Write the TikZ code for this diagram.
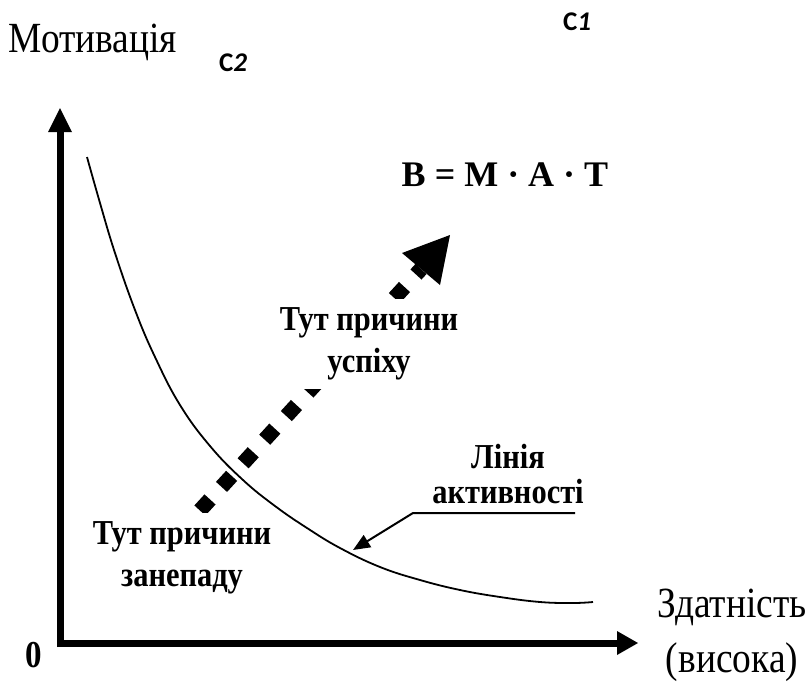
\documentclass[tikz,border=0pt]{standalone}
\usepackage{fontspec}
\setmainfont{Liberation Serif}[FakeStretch=0.87]
\newfontfamily\plainserif{Liberation Serif}
\newfontfamily\carl{Carlito}
\usetikzlibrary{arrows.meta}
\begin{document}
\begin{tikzpicture}[x=1pt,y=-1pt,
  axis/.style={line width=7pt},
  biglbl/.style={font=\fontsize{43}{46}\selectfont, inner sep=0pt, anchor=base},
  boldlbl/.style={font=\bfseries\fontsize{35}{42}\selectfont, align=center, inner sep=0pt},
  clbl/.style={font=\carl\bfseries\fontsize{27}{30}\selectfont, inner sep=0pt},
  whitebox/.style={fill=white, inner xsep=3pt},
  curve/.style={line width=1.8pt},
  dotarrow/.style={line width=15pt, dash pattern=on 15pt off 17pt}]
\useasboundingbox (0,0) rectangle (807,683);

% axes
\coordinate (ybot) at (60,647);
\coordinate (ybase) at (60,130);
\coordinate (ytip) at (60,108);
\coordinate (xleft) at (57,643);
\coordinate (xbase) at (619,643);
\coordinate (xtip) at (638,643);
\draw[axis] (ybot) -- (ybase);
\fill (ytip) -- ++(-12,24) -- ++(24,0) -- cycle;
\draw[axis] (xleft) -- (xbase);
\fill (xtip) -- ++(-21,-12) -- ++(0,24) -- cycle;

% activity curve
\coordinate (cstart) at (87,157);
\coordinate (cend) at (593,602);
\draw[curve] plot[smooth, tension=0.7] coordinates {(87,157) (100,203) (115,253) (135,310) (155,357) (180,405) (210,446) (243,480) (275,506) (307,528) (340,548) (380,567) (420,580) (460,590) (500,597) (540,602) (573,603) (593,602)};

% dotted thick arrow
\coordinate (ds) at (199.9,510.5);
\coordinate (db) at (421,269);
\coordinate (dt) at (450,235);
\draw[dotarrow] (ds) -- (db);
\fill (dt) -- (402,253) -- (440,285) -- cycle;

% labels with white background
\node[boldlbl, whitebox, minimum height=90pt, minimum width=200pt] (up) at (369,344) {Тут причини\\успіху};
\node[boldlbl, whitebox, minimum height=90pt] (down) at (182,558) {Тут причини\\занепаду};

% line of activity label
\node[boldlbl, font=\bfseries\fontsize{35}{35}\selectfont] (lin) at (508,474) {Лінія\\активності};
\coordinate (lr) at (575,513);
\coordinate (ll) at (413,513);
\coordinate (lt) at (353,550);
\draw[line width=2pt, -{Triangle[length=17pt,width=14pt]}] (lr) -- (ll) -- (lt);

% texts
\node[biglbl] (mot) at (93,52) {Мотивація};
\node[biglbl] (zd) at (732,617) {Здатність};
\node[biglbl] (vys) at (732,672) {(висока)};
\node[font=\bfseries\fontsize{38}{40}\selectfont, inner sep=0pt] (zero) at (34,655) {0};
\node[font=\plainserif\bfseries\fontsize{36}{40}\selectfont, inner sep=0pt, anchor=base] (form) at (505,186) {В = М · А · Т};
\node[clbl] (c1) at (577,22) {C\textit{1}};
\node[clbl] (c2) at (233,63) {C\textit{2}};
\end{tikzpicture}
\end{document}
